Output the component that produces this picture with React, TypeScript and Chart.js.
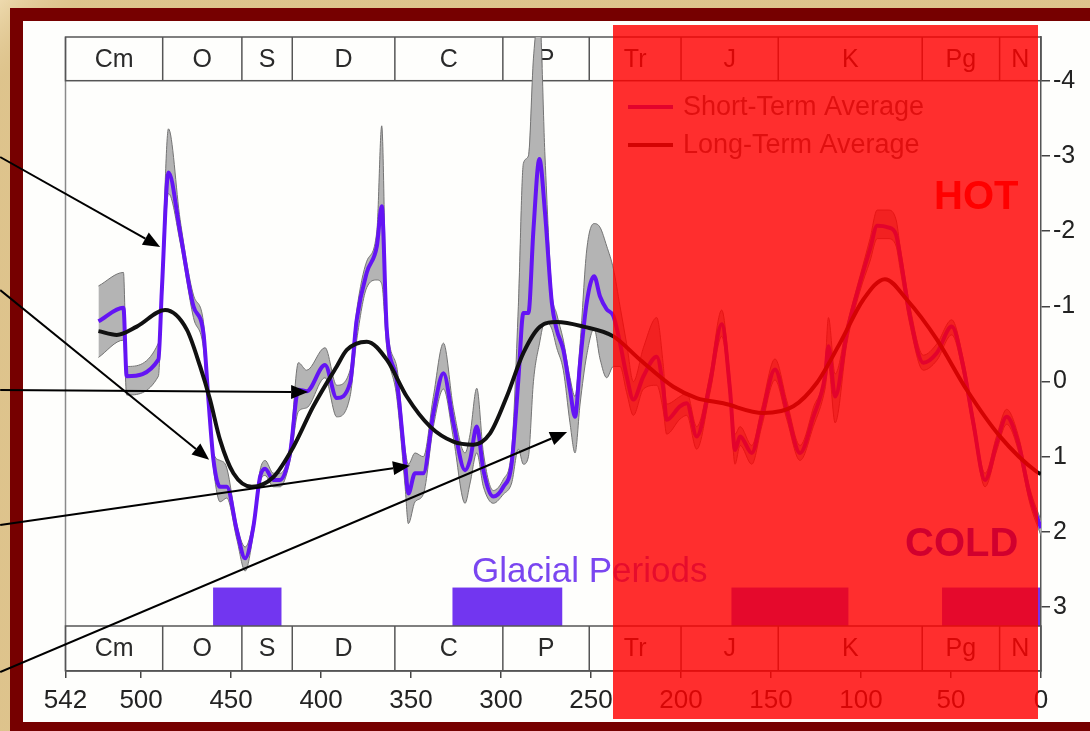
import React, { useEffect, useRef } from 'react';
import { Chart, registerables } from 'chart.js';

Chart.register(...registerables);

// ---------- data ----------
const periodNames = ['Cm', 'O', 'S', 'D', 'C', 'P', 'Tr', 'J', 'K', 'Pg', 'N'];
const periodBounds = [542, 488, 444, 416, 359, 299, 251, 200, 146, 66, 23, 0];
const glacialPeriods = [
  [460, 422],
  [327, 266],
  [172, 107],
  [55, 0],
];
const xTicks = [542, 500, 450, 400, 350, 300, 250, 200, 150, 100, 50, 0];
const yTicks = [-4, -3, -2, -1, 0, 1, 2, 3];

const shortAges = [
  523.7, 509.8, 508.0, 490.4, 488.5, 484.8, 478.3, 470.9, 465.4, 462.6, 459.8, 456.1, 452.4, 446.8,
  442.2, 437.6, 433.9, 431.1, 426.5, 422.8, 417.2, 412.6, 408.0, 397.8, 391.3, 383.9, 380.2, 374.6,
  369.0, 366.3, 363.5, 358.0, 353.3, 351.5, 347.8, 343.2, 337.6, 332.0, 326.5, 320.0, 317.2, 313.5,
  309.8, 304.3, 298.7, 294.1, 290.4, 287.6, 284.8, 282.0, 278.7, 275.6, 271.8, 269.1, 265.4, 261.7,
  258.9, 256.1, 252.4, 248.3, 245.0, 241.3, 237.6, 233.9, 230.2, 226.5, 220.9, 213.5, 209.8, 208.0,
  200.6, 196.8, 191.3, 183.9, 177.4, 172.8, 170.0, 167.2, 160.7, 155.2, 147.8, 141.3, 133.9, 126.5,
  120.0, 118.1, 114.4, 107.9, 100.6, 95.0, 91.0, 85.0, 80.5, 78.3, 72.8, 65.4, 57.9, 49.6, 43.2,
  37.6, 31.1, 24.6, 19.1, 12.6, 6.1, 0.0,
];
const shortTemp = [
  -0.8, -0.98, -0.07, -0.29, -1.2, -2.78, -1.98, -1.0, -0.65, 0.24, 1.04, 1.4, 1.4, 1.98,
  2.35, 1.93, 1.27, 1.16, 1.31, 1.31, 0.95, 0.11, 0.13, -0.22, 0.22, 0.02, -0.82, -1.45,
  -1.8, -2.33, -0.69, -0.02, 1.09, 1.49, 1.22, 1.22, 0.42, -0.11, 0.55, 1.18, 1.04, 0.6,
  1.18, 1.53, 1.4, 1.09, -0.02, -0.91, -0.91, -2.02, -2.96, -2.25, -1.05, -0.69, -0.42, 0.11,
  0.47, -0.25, -1.05, -1.4, -1.13, -0.96, -0.87, -0.51, -0.07, 0.24, -0.07, -0.33, 0.11, 0.51,
  0.33, 0.29, 0.73, 0.02, -0.76, 0.11, 0.91, 0.73, 0.95, 0.47, -0.16, 0.38, 0.95, 0.47,
  -0.07, -0.47, 0.2, -0.64, -1.31, -1.76, -2.07, -2.05, -1.95, -1.67, -0.87, -0.25, -0.38, -0.73, -0.2,
  0.55, 1.31, 0.82, 0.47, 0.82, 1.53, 1.95,
];
const shortUpper = [
  -1.27, -1.45, -0.2, -0.51, -1.4, -3.36, -2.15, -1.15, -0.8, 0.15, 0.95, 1.05, 1.15, 1.9,
  2.2, 1.85, 1.18, 1.05, 1.22, 1.22, 0.85, -0.25, -0.15, -0.45, 0.05, -0.15, -0.95, -1.6,
  -2.0, -3.4, -0.85, -0.2, 0.9, 1.1, 0.95, 1.0, 0.2, -0.51, 0.35, 0.95, 0.7, 0.09,
  0.95, 1.45, 1.3, 0.9, -1.0, -2.9, -3.0, -4.3, -4.9, -3.0, -1.2, -0.9, -0.55, -0.05,
  0.2, -0.5, -1.75, -2.1, -2.05, -1.8, -1.5, -1.0, -0.5, 0.0, -0.45, -0.85, -0.2, 0.3,
  0.2, 0.15, 0.6, -0.1, -0.95, -0.05, 0.7, 0.6, 0.85, 0.35, -0.3, 0.25, 0.85, 0.35,
  -0.2, -0.85, -0.1, -0.75, -1.4, -1.9, -2.28, -2.28, -2.15, -1.8, -1.0, -0.35, -0.5, -0.82, -0.3,
  0.45, 1.22, 0.72, 0.37, 0.72, 1.43, 1.85,
];
const shortLower = [
  -0.32, -0.55, 0.18, -0.07, -1.0, -2.5, -1.85, -0.85, -0.45, 0.35, 1.15, 1.6, 1.55, 2.1,
  2.52, 2.02, 1.35, 1.25, 1.4, 1.4, 1.05, 0.4, 0.35, -0.05, 0.47, 0.2, -0.55, -1.25,
  -1.35, -1.3, -0.45, 0.2, 1.4, 1.89, 1.6, 1.5, 0.6, 0.1, 0.75, 1.62, 1.35, 0.95,
  1.4, 1.62, 1.5, 1.35, 0.9, 1.1, 1.0, 0.0, -0.5, -0.8, -0.7, -0.45, -0.15, 0.55,
  0.95, 0.3, -0.35, -0.7, -0.3, -0.05, -0.2, -0.2, 0.15, 0.45, 0.1, 0.05, 0.4, 0.7,
  0.5, 0.45, 0.9, 0.15, -0.6, 0.25, 1.1, 0.85, 1.1, 0.6, -0.02, 0.5, 1.05, 0.6,
  0.1, -0.2, 0.55, -0.5, -1.2, -1.6, -1.9, -1.9, -1.8, -1.5, -0.75, -0.15, -0.28, -0.62, -0.1,
  0.65, 1.4, 0.92, 0.57, 0.92, 1.63, 2.05,
];

const longAges = [
  523.7, 513.5, 502.4, 486.7, 474.6, 467.2, 461.7, 456.1, 448.7, 438.5, 426.5, 415.4, 404.3, 391.3,
  385.7, 374.6, 363.5, 352.4, 339.4, 326.5, 315.4, 306.1, 296.8, 287.6, 278.3, 269.1, 254.3, 237.6,
  222.8, 204.3, 191.3, 176.5, 154.3, 137.6, 124.6, 111.7, 98.7, 86.7, 74.6, 57.9, 41.3, 22.8, 2.4, 0.0,
];
const longTemp = [
  -0.67, -0.62, -0.73, -0.95, -0.69, -0.2, 0.24, 0.78, 1.22, 1.4, 1.27, 0.87, 0.33, -0.2,
  -0.42, -0.53, -0.29, 0.2, 0.6, 0.8, 0.84, 0.69, 0.2, -0.38, -0.73, -0.79, -0.73, -0.6,
  -0.29, 0.07, 0.22, 0.29, 0.42, 0.33, 0.02, -0.51, -1.09, -1.36, -1.09, -0.56, 0.11, 0.73, 1.2, 1.23,
];

// arrows: tails and tips in (age, temperature) coordinates
const arrowTails = [
  [578.3, -2.985],
  [578.3, -1.217],
  [578.3, 0.113],
  [578.3, 1.908],
  [578.3, 3.863],
];
const arrowTips = [
  [489.4, -1.79],
  [462.2, 1.04],
  [407.2, 0.14],
  [350.6, 1.12],
  [263.3, 0.67],
];

// ---------- layout / style ----------
const W = 1090;
const H = 731;
const FONT = "'Liberation Sans', Arial, Helvetica, sans-serif";
const Y_MIN = (37 - 381.5) / 75.2;
const Y_MAX = (671 - 381.5) / 75.2;
const PURPLE = '#6414f4';
const GLACIAL = '#7236f0';

const pts = (xs: number[], ys: number[]) => xs.map((x, i) => ({ x, y: ys[i] }));

const decorPlugin = {
  id: 'decor',
  beforeDraw(chart: any) {
    const ctx = chart.ctx as CanvasRenderingContext2D;
    const xs = chart.scales.x;
    const ys = chart.scales.y;
    const ca = chart.chartArea;
    ctx.save();
    // parchment
    ctx.fillStyle = '#e3ca95';
    ctx.fillRect(0, 0, W, H);
    const g = ctx.createLinearGradient(0, 0, 40, 40);
    g.addColorStop(0, 'rgba(245,228,190,0.6)');
    g.addColorStop(1, 'rgba(210,180,120,0.3)');
    ctx.fillStyle = g;
    ctx.fillRect(0, 0, W, H);
    // frame
    ctx.fillStyle = '#760000';
    ctx.fillRect(10, 8, W - 10, H - 8);
    ctx.fillStyle = '#fefefc';
    ctx.fillRect(23, 21, W - 23, 722 - 21);

    const left = ca.left;
    const right = ca.right;
    const plotTop = ys.getPixelForValue(-4);
    const bandBottom = ys.getPixelForValue(Y_MAX);
    const plotBottom = bandBottom - 45;

    // glacial period bars
    ctx.fillStyle = GLACIAL;
    const gTop = ys.getPixelForValue(2.74);
    for (const [a, b] of glacialPeriods) {
      const x1 = xs.getPixelForValue(a);
      const x2 = xs.getPixelForValue(b);
      ctx.fillRect(x1, gTop, x2 - x1, plotBottom - gTop);
    }

    // left plot border
    ctx.strokeStyle = '#8a8a8a';
    ctx.lineWidth = 1.5;
    ctx.beginPath();
    ctx.moveTo(left, ca.top);
    ctx.lineTo(left, bandBottom);
    ctx.stroke();

    // period bands
    const drawBand = (t: number, b: number) => {
      ctx.strokeStyle = '#555';
      ctx.lineWidth = 1.5;
      ctx.strokeRect(left, t, right - left, b - t);
      for (let i = 1; i < periodBounds.length - 1; i++) {
        const px = xs.getPixelForValue(periodBounds[i]);
        ctx.beginPath();
        ctx.moveTo(px, t);
        ctx.lineTo(px, b);
        ctx.stroke();
      }
      ctx.fillStyle = '#2a2a2a';
      ctx.font = `25px ${FONT}`;
      ctx.textAlign = 'center';
      ctx.textBaseline = 'middle';
      for (let i = 0; i < periodNames.length; i++) {
        const cx = (xs.getPixelForValue(periodBounds[i]) + xs.getPixelForValue(periodBounds[i + 1])) / 2;
        ctx.fillText(periodNames[i], cx, (t + b) / 2 + 1);
      }
    };
    drawBand(ca.top, plotTop);
    drawBand(plotBottom, bandBottom);

    // Glacial Periods label
    ctx.fillStyle = '#7a46f0';
    ctx.font = `35px ${FONT}`;
    ctx.textAlign = 'left';
    ctx.textBaseline = 'alphabetic';
    ctx.fillText('Glacial Periods', 472, 582);
    ctx.restore();
  },
  afterDatasetsDraw(chart: any) {
    const ctx = chart.ctx as CanvasRenderingContext2D;
    ctx.save();
    // legend
    ctx.lineWidth = 4;
    ctx.strokeStyle = PURPLE;
    ctx.beginPath();
    ctx.moveTo(628, 107);
    ctx.lineTo(673, 107);
    ctx.stroke();
    ctx.strokeStyle = '#111';
    ctx.beginPath();
    ctx.moveTo(628, 145);
    ctx.lineTo(673, 145);
    ctx.stroke();
    ctx.fillStyle = '#555';
    ctx.font = `27px ${FONT}`;
    ctx.textAlign = 'left';
    ctx.textBaseline = 'middle';
    ctx.fillText('Short-Term Average', 683, 108);
    ctx.fillText('Long-Term Average', 683, 146);
    // HOT / COLD
    ctx.font = `bold 40px ${FONT}`;
    ctx.textBaseline = 'alphabetic';
    ctx.fillStyle = '#ff0000';
    ctx.fillText('HOT', 934, 209);
    ctx.fillStyle = '#0000ff';
    ctx.fillText('COLD', 905, 556);
    ctx.restore();
  },
  afterDraw(chart: any) {
    const ctx = chart.ctx as CanvasRenderingContext2D;
    const xs = chart.scales.x;
    const ys = chart.scales.y;
    ctx.save();
    // arrows
    ctx.strokeStyle = '#000';
    ctx.fillStyle = '#000';
    ctx.lineWidth = 2;
    for (let i = 0; i < arrowTips.length; i++) {
      const x0 = xs.getPixelForValue(arrowTails[i][0]);
      const y0 = ys.getPixelForValue(arrowTails[i][1]);
      const x1 = xs.getPixelForValue(arrowTips[i][0]);
      const y1 = ys.getPixelForValue(arrowTips[i][1]);
      const ang = Math.atan2(y1 - y0, x1 - x0);
      const len = 17;
      const half = 7;
      const bx = x1 - len * Math.cos(ang);
      const by = y1 - len * Math.sin(ang);
      ctx.beginPath();
      ctx.moveTo(x0, y0);
      ctx.lineTo(bx, by);
      ctx.stroke();
      ctx.beginPath();
      ctx.moveTo(x1, y1);
      ctx.lineTo(bx + half * Math.sin(ang), by - half * Math.cos(ang));
      ctx.lineTo(bx - half * Math.sin(ang), by + half * Math.cos(ang));
      ctx.closePath();
      ctx.fill();
    }
    // red overlay
    ctx.fillStyle = 'rgba(255,0,0,0.82)';
    ctx.fillRect(613, 25, 425, 694);
    ctx.restore();
  },
};

export default function App() {
  const ref = useRef<HTMLCanvasElement | null>(null);
  useEffect(() => {
    if (!ref.current) return;
    const chart = new Chart(ref.current, {
      type: 'line',
      data: {
        datasets: [
          {
            label: 'Long-Term Average',
            data: pts(longAges, longTemp),
            borderColor: '#111',
            borderWidth: 4,
            pointRadius: 0,
            cubicInterpolationMode: 'monotone',
            fill: false,
          },
          {
            label: 'Short-Term Average',
            data: pts(shortAges, shortTemp),
            borderColor: PURPLE,
            borderWidth: 4,
            pointRadius: 0,
            cubicInterpolationMode: 'monotone',
            fill: false,
          },
          {
            label: 'lower',
            data: pts(shortAges, shortLower),
            borderColor: '#747474',
            borderWidth: 1,
            pointRadius: 0,
            cubicInterpolationMode: 'monotone',
            fill: false,
          },
          {
            label: 'upper',
            data: pts(shortAges, shortUpper),
            borderColor: '#747474',
            borderWidth: 1,
            pointRadius: 0,
            cubicInterpolationMode: 'monotone',
            backgroundColor: '#b4b4b4',
            fill: '-1',
          },
        ],
      },
      options: {
        animation: false,
        responsive: false,
        devicePixelRatio: 1,
        layout: { padding: { left: 65.5, top: 37, right: 0, bottom: 0 } },
        plugins: {
          legend: { display: false },
          tooltip: { enabled: false },
          title: { display: false },
        },
        scales: {
          x: {
            type: 'linear',
            position: 'bottom',
            reverse: true,
            min: 0,
            max: 542,
            afterBuildTicks: (s: any) => {
              s.ticks = xTicks.map((v) => ({ value: v }));
            },
            afterFit: (s: any) => {
              s.height = 60;
            },
            grid: { drawOnChartArea: false, drawTicks: true, tickLength: 7, color: '#444', lineWidth: 1.5 },
            border: { display: true, color: '#555', width: 1.5 },
            ticks: {
              autoSkip: false,
              maxRotation: 0,
              padding: 7,
              color: '#222',
              font: { family: FONT, size: 26 },
              callback: (v: any) => String(v),
            },
          },
          y: {
            type: 'linear',
            position: 'right',
            reverse: true,
            min: Y_MIN,
            max: Y_MAX,
            afterBuildTicks: (s: any) => {
              s.ticks = yTicks.map((v) => ({ value: v }));
            },
            afterFit: (s: any) => {
              s.width = 49;
            },
            grid: { drawOnChartArea: false, drawTicks: true, tickLength: 9, color: '#444', lineWidth: 1.5 },
            border: { display: true, color: '#555', width: 1.5 },
            ticks: {
              padding: 3,
              color: '#222',
              font: { family: FONT, size: 25 },
              callback: (v: any) => String(v),
            },
          },
        },
      },
      plugins: [decorPlugin],
    });
    return () => chart.destroy();
  }, []);
  return (
    <div style={{ position: 'fixed', left: 0, top: 0, width: W, height: H }}>
      <canvas ref={ref} width={W} height={H} style={{ width: W, height: H, display: 'block' }} />
    </div>
  );
}
